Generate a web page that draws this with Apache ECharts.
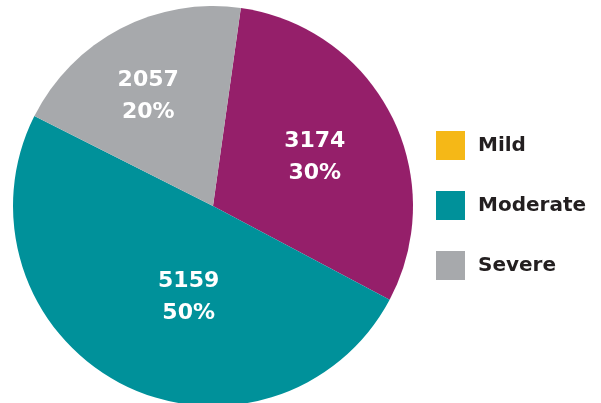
<!DOCTYPE html>
<html>
<head>
<meta charset="utf-8">
<script src="https://cdn.jsdelivr.net/npm/echarts@6/dist/echarts.min.js"></script>
<style>
html,body{margin:0;padding:0;background:#fff;}
#chart{width:601px;height:403px;}
</style>
</head>
<body>
<div id="chart"></div>
<script>
// Data
var categories = ['Mild', 'Moderate', 'Severe'];
var values = [3174, 5159, 2057];

// Styles (kept separate from data)
var sliceColors = ['#951F6A', '#00919A', '#A7A9AC'];
var legendColors = ['#F5B817', '#00919A', '#A7A9AC'];
var labelOffsets = [[10, -2], [23, 0], [-17, -18]];

var chart = echarts.init(document.getElementById('chart'), null, {renderer: 'canvas'});

var pieData = categories.map(function (name, i) {
  return {
    name: name,
    value: values[i],
    itemStyle: { color: sliceColors[i] },
    label: { offset: labelOffsets[i] }
  };
});

var option = {
  animation: false,
  backgroundColor: '#ffffff',
  legend: {
    orient: 'vertical',
    left: 436,
    top: 131,
    padding: 0,
    itemWidth: 29,
    itemHeight: 29,
    itemGap: 31,
    icon: 'rect',
    selectedMode: false,
    data: categories.map(function (name, i) {
      return { name: name, itemStyle: { color: legendColors[i] } };
    }),
    textStyle: {
      fontFamily: 'DejaVu Sans',
      fontWeight: 'bold',
      fontSize: 20,
      color: '#231F20',
      padding: [0, 0, 0, 8]
    }
  },
  series: [{
    type: 'pie',
    center: [213, 206],
    radius: 200,
    startAngle: 82,
    clockwise: true,
    percentPrecision: 0,
    silent: true,
    label: {
      show: true,
      position: 'inside',
      formatter: '{c}\n{d}%',
      color: '#ffffff',
      fontFamily: 'DejaVu Sans',
      fontWeight: 'bold',
      fontSize: 22,
      lineHeight: 32,
      align: 'center'
    },
    labelLine: { show: false },
    itemStyle: { borderWidth: 0 },
    emphasis: { disabled: true },
    data: pieData
  }]
};

chart.setOption(option);
</script>
</body>
</html>
